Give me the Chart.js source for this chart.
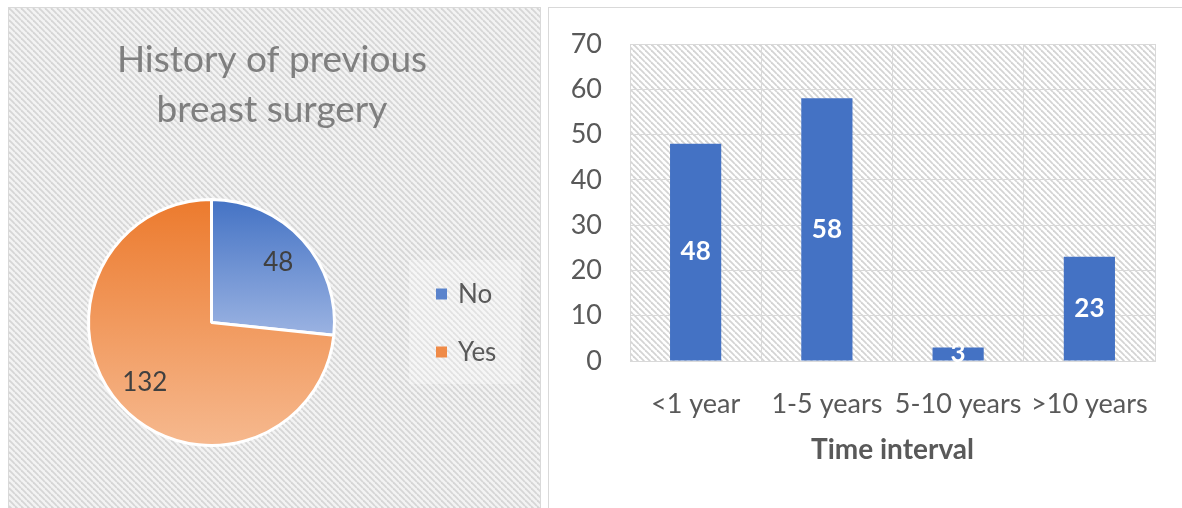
<!DOCTYPE html>
<html><head><meta charset="utf-8">
<script src="https://cdn.jsdelivr.net/npm/chart.js@4.4.1/dist/chart.umd.min.js"></script>
<style>
html,body{margin:0;padding:0;background:#fff;width:1182px;height:508px;overflow:hidden;}
.panel{position:absolute;box-sizing:border-box;border:1px solid #d9d9d9;}
#p1{left:8px;top:7px;width:533px;height:520px;}
#p2{left:548px;top:7px;width:660px;height:520px;}
canvas{display:block;}
</style></head><body>
<div class="panel" id="p1"><canvas id="pie" width="531" height="500" style="width:531px;height:500px"></canvas></div>
<div class="panel" id="p2"><canvas id="bar" width="633" height="500" style="width:633px;height:500px"></canvas></div>
<script>
// ---- data ----
const pieTitle = ['History of previous', 'breast surgery'];
const pieLabels = ['No', 'Yes'];
const pieValues = [48, 132];
const pieTopColors = ['#4372c4', '#ec7a2d'];
const pieBottomColors = ['#9bb3e2', '#f6b98f'];
const pieLegendColors = ['#5a83cc', '#ef8a47'];

const barCategories = ['<1 year', '1-5 years', '5-10 years', '>10 years'];
const barValues = [48, 58, 3, 23];
const yTicks = [0, 10, 20, 30, 40, 50, 60, 70];
const xAxisTitle = 'Time interval';

const FONT = 'Lato';

function makeHatch(bg, line) {
  const t = document.createElement('canvas');
  t.width = 6; t.height = 6;
  const g = t.getContext('2d');
  g.fillStyle = bg; g.fillRect(0, 0, 6, 6);
  g.strokeStyle = line; g.lineWidth = 1.8;
  for (let k = -1; k <= 1; k++) {
    g.beginPath(); g.moveTo(0, k * 6); g.lineTo(6, k * 6 + 6); g.stroke();
  }
  return t;
}

function start() {
  Chart.defaults.font.family = FONT;

  // ---------- PIE ----------
  const total = pieValues.reduce((a, b) => a + b, 0);
  function sliceAngles(i) {
    let before = 0;
    for (let k = 0; k < i; k++) before += pieValues[k];
    const s = -90 + before / total * 360;
    return [s, s + pieValues[i] / total * 360];
  }
  const pieBg = (c) => {
    const chart = c.chart, a = chart.chartArea;
    const i = c.dataIndex;
    if (!a || c.type !== 'data') return pieTopColors[i];
    const cy = (a.top + a.bottom) / 2, r = Math.min(a.width, a.height) / 2;
    const [s, e] = sliceAngles(i);
    const ys = [cy, cy + r * Math.sin(s * Math.PI / 180), cy + r * Math.sin(e * Math.PI / 180)];
    [-90, 90, 270].forEach(ang => { if (ang >= s && ang <= e) ys.push(cy + r * Math.sin(ang * Math.PI / 180)); });
    const y0 = Math.min(...ys), y1 = Math.max(...ys);
    const g = chart.ctx.createLinearGradient(0, y0, 0, y1);
    g.addColorStop(0, pieTopColors[i]);
    g.addColorStop(1, pieBottomColors[i]);
    return g;
  };

  const pieHatch = makeHatch('#f3f3f3', '#d6d6d6');
  const piePlugin = {
    id: 'pieDecor',
    beforeDraw(chart) {
      const ctx = chart.ctx;
      ctx.save();
      ctx.fillStyle = ctx.createPattern(pieHatch, 'repeat');
      ctx.fillRect(0, 0, chart.width, chart.height);
      // legend background
      ctx.fillStyle = 'rgba(255,255,255,0.3)';
      ctx.fillRect(400, 252, 112, 124);
      ctx.restore();
    },
    afterDraw(chart) {
      const ctx = chart.ctx;
      ctx.save();
      // title
      ctx.fillStyle = '#7f7f7f';
      ctx.font = '37px ' + FONT;
      ctx.textAlign = 'center';
      ctx.textBaseline = 'middle';
      ctx.fillText(pieTitle[0], 263, 52);
      ctx.fillText(pieTitle[1], 263, 102);
      // legend
      ctx.font = '26px ' + FONT;
      ctx.textAlign = 'left';
      pieLabels.forEach((lab, i) => {
        const y = 286 + i * 58;
        ctx.fillStyle = pieLegendColors[i];
        ctx.fillRect(427, y - 5.5, 11, 11);
        ctx.fillStyle = '#595959';
        ctx.fillText(lab, 449, y + 1);
      });
      // slice value labels
      const meta = chart.getDatasetMeta(0);
      ctx.font = '26px ' + FONT;
      ctx.fillStyle = '#404040';
      ctx.textAlign = 'center';
      meta.data.forEach((arc, i) => {
        const mid = (arc.startAngle + arc.endAngle) / 2;
        const rr = arc.outerRadius * 0.73;
        ctx.fillText(String(pieValues[i]), arc.x + rr * Math.cos(mid), arc.y + rr * Math.sin(mid));
      });
      ctx.restore();
    }
  };

  new Chart(document.getElementById('pie'), {
    type: 'pie',
    data: { labels: pieLabels, datasets: [{ data: pieValues, backgroundColor: pieBg, borderColor: '#ffffff', borderWidth: 3 }] },
    options: {
      responsive: false, animation: false,
      layout: { padding: { left: 78, top: 190, right: 204, bottom: 61 } },
      plugins: { legend: { display: false }, tooltip: { enabled: false }, title: { display: false } }
    },
    plugins: [piePlugin]
  });

  // ---------- BAR ----------
  const barHatch = makeHatch('#ffffff', '#d4d4d4');
  const barPlugin = {
    id: 'barDecor',
    beforeDraw(chart) {
      const a = chart.chartArea, ctx = chart.ctx;
      ctx.save();
      ctx.fillStyle = ctx.createPattern(barHatch, 'repeat');
      ctx.fillRect(a.left, a.top, a.width, a.height);
      ctx.restore();
    },
    afterDatasetsDraw(chart) {
      const ctx = chart.ctx;
      const meta = chart.getDatasetMeta(0);
      ctx.save();
      ctx.font = 'bold 26px ' + FONT;
      ctx.fillStyle = '#ffffff';
      ctx.textAlign = 'center';
      ctx.textBaseline = 'middle';
      meta.data.forEach((bar, i) => {
        ctx.fillText(String(barValues[i]), bar.x, (bar.y + bar.base) / 2);
      });
      ctx.restore();
    }
  };

  new Chart(document.getElementById('bar'), {
    type: 'bar',
    data: { labels: barCategories, datasets: [{ data: barValues, backgroundColor: '#4472c4', borderWidth: 0, categoryPercentage: 1, barPercentage: 0.39 }] },
    options: {
      responsive: false, animation: false,
      layout: { padding: { left: 0, top: 36, right: 27, bottom: 41 } },
      plugins: { legend: { display: false }, tooltip: { enabled: false } },
      scales: {
        x: {
          grid: { color: '#d9d9d9', lineWidth: 1, drawTicks: false, offset: true },
          border: { color: '#d9d9d9' },
          ticks: { color: '#595959', font: { size: 27 }, padding: 27, maxRotation: 0, autoSkip: false },
          title: { display: true, text: xAxisTitle, color: '#595959', font: { size: 28, weight: 'bold' }, padding: 0 },
          afterFit(s) { s.height = 106; }
        },
        y: {
          min: yTicks[0], max: yTicks[yTicks.length - 1],
          afterBuildTicks(s) { s.ticks = yTicks.map(v => ({ value: v })); },
          grid: { color: '#d9d9d9', lineWidth: 1, drawTicks: true, tickLength: 25, tickColor: 'rgba(0,0,0,0)' },
          border: { color: '#d9d9d9' },
          ticks: { color: '#595959', font: { size: 27 }, padding: 3 },
          afterFit(s) { s.width = 81; }
        }
      }
    },
    plugins: [barPlugin]
  });
}

const loads = [document.fonts.load('22px Lato'), document.fonts.load('bold 22px Lato')];
Promise.all(loads).then(start, start);
</script>
</body></html>
